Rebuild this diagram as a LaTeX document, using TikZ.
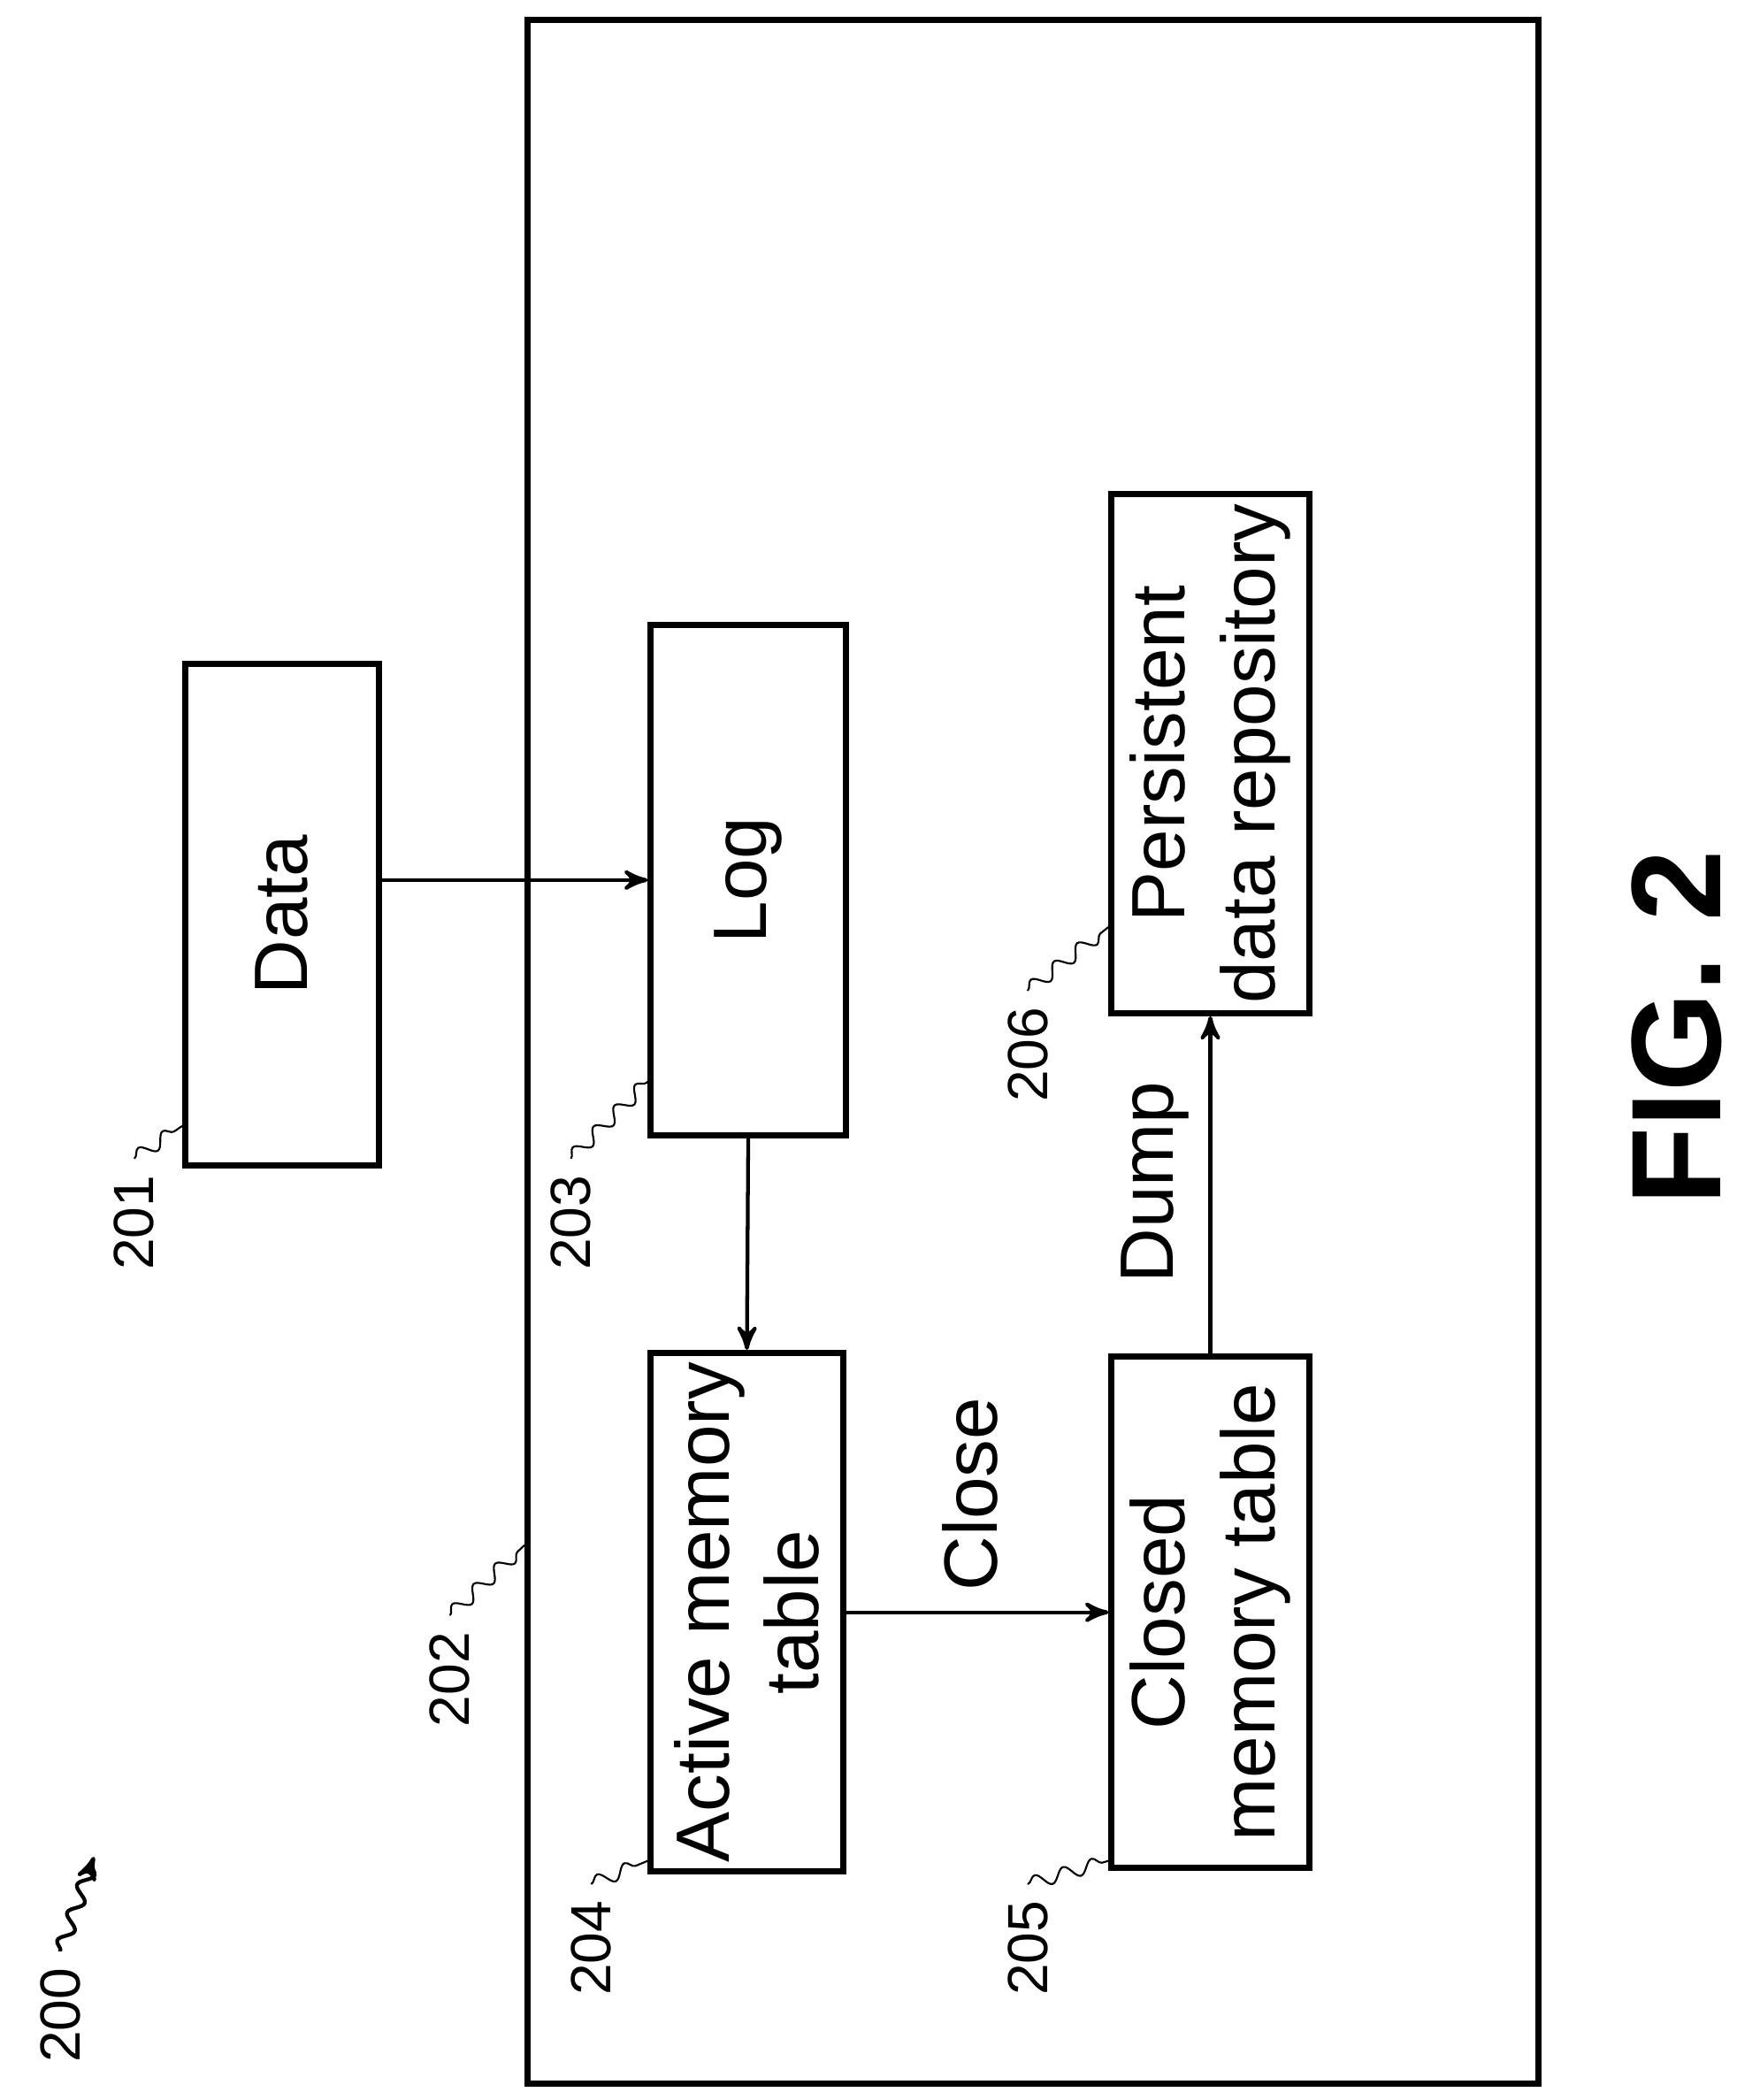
\documentclass[tikz,border=0pt]{standalone}
\usepackage{fontspec}
\setmainfont{Liberation Sans}
\usetikzlibrary{arrows,decorations.pathmorphing}
\begin{document}
\begin{tikzpicture}[x=0.01cm,y=-0.01cm,>=stealth',
    box/.style={draw,line width=1.3pt,rotate=90,align=center,inner sep=2pt,
                font={\fontsize{16pt}{19}\selectfont}},
    lbl/.style={rotate=90,font={\fontsize{12pt}{14}\selectfont}},
    lead/.style={decorate,decoration={snake,amplitude=0.5mm,segment length=2.2mm}}]
  \useasboundingbox (0,0) rectangle (1310,1563);
  % frame 202
  \node[draw,line width=1.3pt,inner sep=0pt] (frame)
    at (769,783) [rotate=90,minimum width=15.35cm,minimum height=7.52cm] {};
  % blocks
  \node[box,minimum width=3.73cm,minimum height=1.44cm] (data) at (210,681) {Data};
  \node[box,minimum width=3.80cm,minimum height=1.45cm] (log) at (557,655) {Log};
  \node[box,minimum width=3.80cm,minimum height=1.43cm] (act) at (556,1200) {Active memory\\table};
  \node[box,minimum width=3.80cm,minimum height=1.47cm] (clo) at (901,1200) {Closed\\memory table};
  \node[box,minimum width=3.78cm,minimum height=1.47cm] (per) at (901,561) {Persistent\\data repository};
  % connectors
  \draw[->,thick] (data.south |- log.center) -- (log.north);
  \draw[->,thick] (log.west) -- (act.east);
  \draw[->,thick] (act.south) -- (clo.north);
  \draw[->,thick] (clo.east) -- (per.west);
  \node[box,draw=none] (close) at (722,1112) {Close};
  \node[box,draw=none] (dump) at (860,880) {Dump};
  % reference labels
  \node[lbl] (l200) at (45,1500) {200};
  \node[lbl] (l201) at (100,910) {201};
  \node[lbl] (l202) at (335,1250) {202};
  \node[lbl] (l203) at (425,910) {203};
  \node[lbl] (l204) at (440,1450) {204};
  \node[lbl] (l205) at (765,1450) {205};
  \node[lbl] (l206) at (765,785) {206};
  \coordinate (c200) at (70,1382);
  \draw[lead,->,thick] (l200.east) -- (c200);
  \draw[lead] (l201.east) -- (data.north |- 0,838);
  \draw[lead] (l202.east) -- (frame.north |- 0,1150);
  \draw[lead] (l203.east) -- (log.north |- 0,805);
  \draw[lead] (l204.east) -- (act.north |- 0,1385);
  \draw[lead] (l205.east) -- (clo.north |- 0,1385);
  \draw[lead] (l206.east) -- (per.north |- 0,690);
  \node[rotate=90,font={\fontsize{27pt}{32}\selectfont\bfseries}] (fig) at (1248,765) {FIG. 2};
\end{tikzpicture}
\end{document}
